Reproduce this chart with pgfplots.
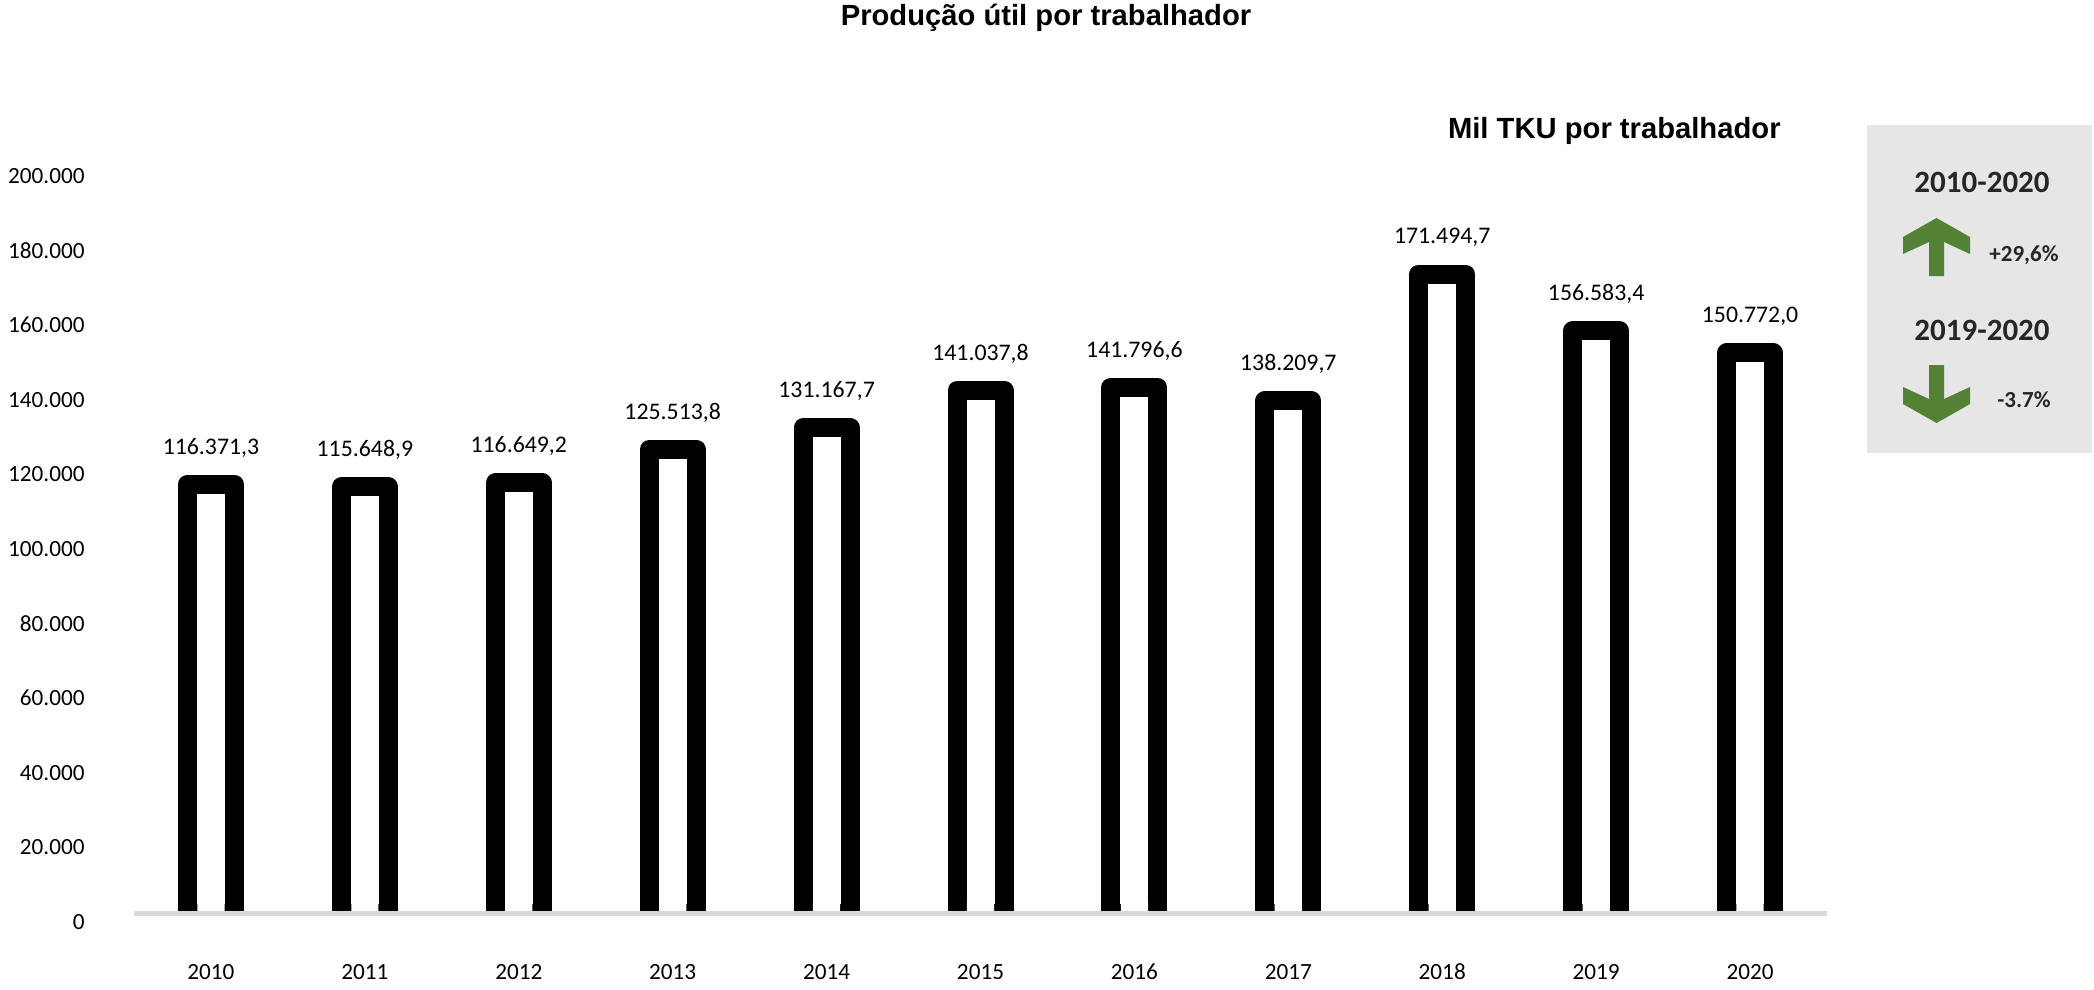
\documentclass[border=0pt]{standalone}
\usepackage{fontspec}
\setmainfont{Carlito}
\newfontfamily\arialf{Liberation Sans}
\usepackage{pgfplots}
\pgfplotsset{compat=1.18}
\usepackage{pgfplotstable}
\definecolor{basegray}{HTML}{D9D9D9}
\definecolor{boxgray}{HTML}{E7E6E6}
\definecolor{arrowgreen}{HTML}{548235}
\definecolor{boxtext}{HTML}{262626}

\pgfplotstableread{
x year v
0 2010 116371.3
1 2011 115648.9
2 2012 116649.2
3 2013 125513.8
4 2014 131167.7
5 2015 141037.8
6 2016 141796.6
7 2017 138209.7
8 2018 171494.7
9 2019 156583.4
10 2020 150772.0
}\datatable

% white mask hiding the bottom edge of each outlined bar
\pgfplotstableread{
x m
0 6600
1 6600
2 6600
3 6600
4 6600
5 6600
6 6600
7 6600
8 6600
9 6600
10 6600
}\masktable

\begin{document}
\begin{tikzpicture}
\path[use as bounding box] (0,0) rectangle (1047pt,-495pt);
% value scale (labels only)
\begin{axis}[
  at={(67pt,-461pt)}, anchor=south west,
  scale only axis, width=846.5pt, height=373pt,
  xmin=-0.5, xmax=10.5, ymin=0, ymax=200000,
  xtick=\empty,
  ytick={0,20000,40000,60000,80000,100000,120000,140000,160000,180000,200000},
  yticklabels={0,20.000,40.000,60.000,80.000,100.000,120.000,140.000,160.000,180.000,200.000},
  scaled y ticks=false,
  axis line style={draw=none},
  tick style={draw=none}, major tick length=0pt,
  yticklabel style={anchor=east, inner sep=0pt, xshift=-24.5pt, font=\fontsize{11.6}{14}\selectfont},
]
\end{axis}
% bars
\begin{axis}[
  at={(67pt,-456.5pt)}, anchor=south west,
  scale only axis, width=846.5pt, height=373.8pt,
  xmin=-0.5, xmax=10.5, ymin=3780, ymax=200000,
  xtick={0,1,2,3,4,5,6,7,8,9,10},
  xticklabels={2010,2011,2012,2013,2014,2015,2016,2017,2018,2019,2020},
  ytick=\empty,
  axis x line*=bottom, axis y line*=left,
  y axis line style={draw=none},
  x axis line style={draw=basegray, line width=2.5pt, -},
  tick style={draw=none}, major tick length=0pt,
  xticklabel style={anchor=center, inner sep=0pt, yshift=-29.5pt, font=\fontsize{11.6}{14}\selectfont},
  axis on top,
  clip=true,
]
\addplot[ybar, bar shift=0pt, bar width=23.5pt, draw=black, fill=white,
  line width=9.5pt, line join=round,
  nodes near coords={\pgfmathprintnumber[fixed, fixed zerofill, precision=1, 1000 sep={.}, use comma, assume math mode=true]{\pgfplotspointmeta}},
  every node near coord/.append style={anchor=center, yshift=18.25pt, font=\fontsize{11.9}{14}\selectfont, text=black, line width=0.4pt}
] table[x=x, y=v] {\datatable};
\addplot[ybar, bar shift=0pt, bar width=13.6pt, fill=white, draw=none] table[x=x, y=m] {\masktable};
\end{axis}

\node[font=\arialf\bfseries\fontsize{14.6}{17}\selectfont] at (523pt,-8.7pt) {Produção útil por trabalhador};
\node[anchor=east, inner sep=0pt, font=\arialf\bfseries\fontsize{14.6}{17}\selectfont] at (890.5pt,-65.5pt) {Mil TKU por trabalhador};

\fill[boxgray] (933.5pt,-62.5pt) rectangle (1046pt,-226.5pt);
\node[font=\bfseries\fontsize{15.5}{18}\selectfont, text=boxtext] at (991pt,-91pt) {2010-2020};
\fill[arrowgreen] (968.25pt,-109pt) -- (985pt,-118.5pt) -- (985pt,-127pt) -- (972pt,-121pt) -- (972pt,-138pt) -- (964.5pt,-138pt) -- (964.5pt,-121pt) -- (951.5pt,-127pt) -- (951.5pt,-118.5pt) -- cycle;
\node[font=\bfseries\fontsize{11.5}{14}\selectfont, text=boxtext] at (1012pt,-127.5pt) {+29,6\%};
\node[font=\bfseries\fontsize{15.5}{18}\selectfont, text=boxtext] at (991pt,-165pt) {2019-2020};
\fill[arrowgreen] (968.25pt,-211.5pt) -- (985pt,-202pt) -- (985pt,-193.5pt) -- (972pt,-199.5pt) -- (972pt,-182.5pt) -- (964.5pt,-182.5pt) -- (964.5pt,-199.5pt) -- (951.5pt,-193.5pt) -- (951.5pt,-202pt) -- cycle;
\node[font=\bfseries\fontsize{11.5}{14}\selectfont, text=boxtext] at (1012pt,-200pt) {-3.7\%};
\end{tikzpicture}
\end{document}
